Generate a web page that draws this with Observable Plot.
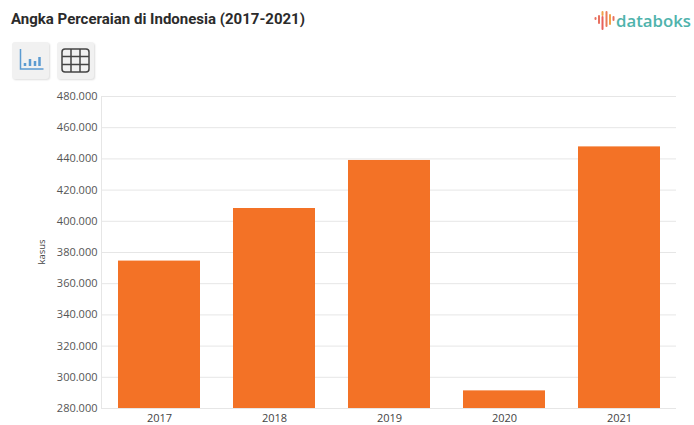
<!DOCTYPE html>
<html><head><meta charset="utf-8">
<script src="https://cdn.jsdelivr.net/npm/d3@7"></script>
<script src="https://cdn.jsdelivr.net/npm/@observablehq/plot@0.6"></script>
<style>
html,body{margin:0;padding:0;background:#fff;overflow:hidden}
#wrap{position:relative;width:694px;height:425px;font-family:"Open Sans",sans-serif}
#head{position:relative;height:80px}
#title{position:absolute;left:11px;top:10px;font:bold 15px Roboto,sans-serif;color:#2b2b2b;white-space:nowrap}
.btn{position:absolute;top:42px;width:37px;height:37px;background:#f1f1f1;border-radius:3px;box-shadow:1px 1px 2px #ddd}
#logo{position:absolute;left:616px;top:9px;font:600 16.8px "Open Sans",sans-serif;color:#4fb3ac;white-space:nowrap}
#mark{position:absolute;left:594px;top:10px}
#chart svg{display:block}
</style></head><body>
<div id="wrap">
<div id="head">
<div id="title">Angka Perceraian di Indonesia (2017-2021)</div>
<svg id="mark" width="22" height="22" viewBox="0 0 22 22"><g stroke-width="2" stroke-linecap="round"><path d="M1.500 8v1" stroke="#e8705f"/><path d="M5 6v7" stroke="#e8705f"/><path d="M8.500 2v3" stroke="#f0a24a"/><path d="M8.500 7v12" stroke="#e8605a"/><path d="M12.500 2v14" stroke="#ea7a58"/><path d="M16 5v9" stroke="#f0a24a"/><path d="M19.500 7v3" stroke="#e8705f"/></g></svg>
<div id="logo">databoks</div>
<div class="btn" style="left:12px"><svg width="37" height="37" viewBox="0 0 37 37" fill="none" stroke="#5b9bd1" stroke-width="1.500"><path d="M8.500 7v20h23"/><path d="M13 24v-3M18 24v-7M23 24v-5M27.500 24v-9" stroke-width="2.500"/></svg></div>
<div class="btn" style="left:57px"><svg width="37" height="37" viewBox="0 0 37 37" fill="none" stroke="#444" stroke-width="1.500"><rect x="5" y="7" width="27" height="23" rx="3"/><path d="M14 7v23M23 7v23M5 14.500h27M5 22.500h27"/></svg></div>
</div>
<div id="chart"></div>
</div>
<script>
const years = ["2017","2018","2019","2020","2021"];
const cases = [374500,408200,439000,291300,447700];
const yTicks = [280000,300000,320000,340000,360000,380000,400000,420000,440000,460000,480000];
const yLabel = "kasus";
const rows = years.map((year,i)=>({year,value:cases[i]}));
const fmt = d => String(d).replace(/\B(?=(\d{3})+$)/g,".");
const chart = Plot.plot({
  width:694,height:345,
  marginLeft:101,marginRight:18,marginTop:16,marginBottom:17,
  style:{fontFamily:'"Open Sans",sans-serif',fontSize:"11px",background:"#fff"},
  x:{domain:years,paddingInner:0.287,paddingOuter:0.1435,label:null},
  y:{domain:[280000,480000],label:null},
  marks:[
    Plot.gridY(yTicks,{stroke:"#e6e6e6",strokeOpacity:1}),
    Plot.frame({anchor:"left",stroke:"#e6e6e6"}),
    Plot.barY(rows,{x:"year",y1:280000,y2:"value",fill:"#f37226"}),
    Plot.axisY(yTicks,{tickSize:0,tickPadding:4,tickFormat:fmt,label:null,fill:"#555"}),
    Plot.axisX(years,{tickSize:0,tickPadding:6,label:null,fill:"#444"})
  ]
});
document.getElementById("chart").append(chart);
const lab=document.createElement("div");
lab.textContent=yLabel;
lab.style.cssText="position:absolute;left:41px;top:252px;transform:translate(-50%,-50%) rotate(-90deg);font-size:9.5px;color:#444";
document.getElementById("wrap").append(lab);
</script>
</body></html>
